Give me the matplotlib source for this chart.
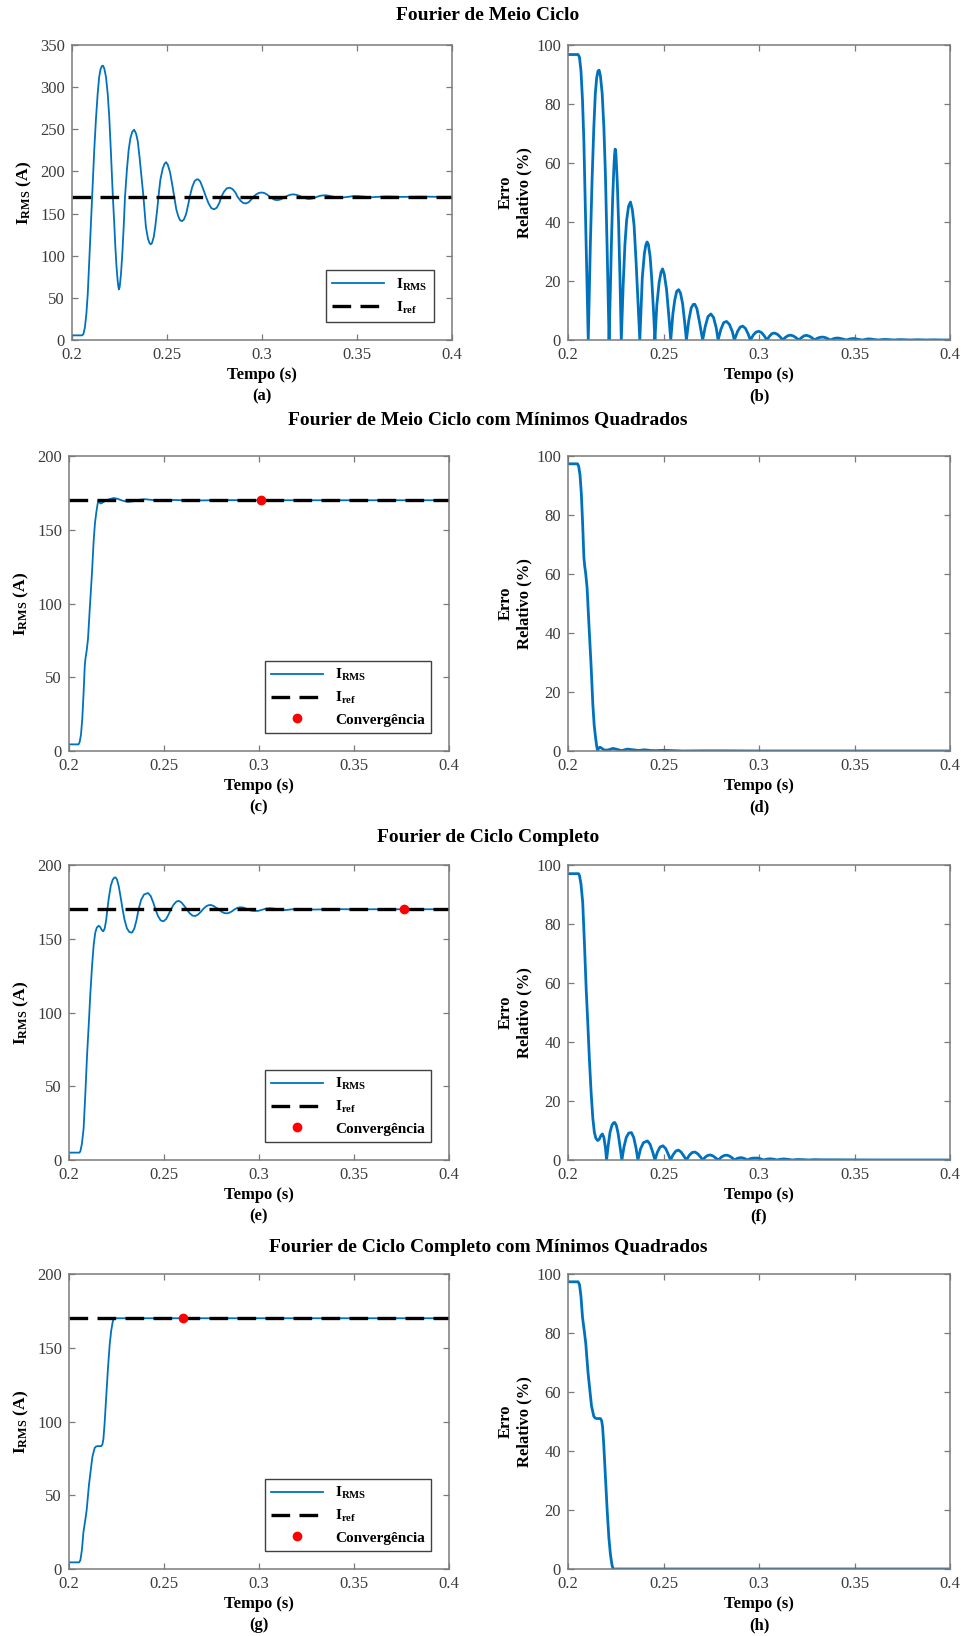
import numpy as np
import matplotlib
matplotlib.use('Agg')
import matplotlib.pyplot as plt

plt.rcParams['font.family'] = 'Liberation Serif'
plt.rcParams['mathtext.fontset'] = 'custom'
plt.rcParams['mathtext.rm'] = 'Liberation Serif'
plt.rcParams['mathtext.bf'] = 'Liberation Serif:bold'
plt.rcParams['mathtext.it'] = 'Liberation Serif:italic'

# Reference current (A)
i_ref = 170

# Half-cycle Fourier
t_a = [0.200, 0.2053, 0.2060, 0.2068, 0.2076, 0.2083, 0.2092, 0.2100, 0.2106, 0.2117,
       0.2126, 0.2135, 0.2143, 0.2150, 0.2157, 0.2163, 0.2170, 0.2179, 0.2188, 0.2196,
       0.2205, 0.2215, 0.2222, 0.2228, 0.2234, 0.2240, 0.2244, 0.2247, 0.2251, 0.2258,
       0.2265, 0.2272, 0.2279, 0.2289, 0.2298, 0.2307, 0.2317, 0.2327, 0.2337, 0.2346,
       0.2356, 0.2367, 0.2376, 0.2389, 0.2400, 0.2408, 0.2414, 0.2421, 0.2430, 0.2438,
       0.2449, 0.2455, 0.2465, 0.2477, 0.2487, 0.2495, 0.2504, 0.2516, 0.2527, 0.2538,
       0.2549, 0.2559, 0.2569, 0.2579, 0.2589, 0.2600, 0.2611, 0.2620, 0.2632, 0.2645,
       0.2656, 0.2664, 0.2675, 0.2689, 0.2705, 0.2719, 0.2733, 0.2748, 0.2762, 0.2776,
       0.2786, 0.2800, 0.2815, 0.2830, 0.2845, 0.2860, 0.2871, 0.2888, 0.2902, 0.2915,
       0.2929, 0.2943, 0.2955, 0.2971, 0.2985, 0.2999, 0.3013, 0.3027, 0.3041, 0.3055,
       0.3068, 0.3082, 0.3096, 0.3110, 0.3124, 0.3138, 0.3152, 0.3166, 0.3180, 0.3194,
       0.3208, 0.3222, 0.3236, 0.3249, 0.3263, 0.3277, 0.3291, 0.3305, 0.3319, 0.3333,
       0.3347, 0.3361, 0.3375, 0.3389, 0.3403, 0.3416, 0.3430, 0.3444, 0.3458, 0.3472,
       0.3486, 0.3500, 0.3514, 0.3528, 0.3542, 0.3556, 0.3570, 0.3583, 0.3600, 0.3625,
       0.3650, 0.3667, 0.3690, 0.3708, 0.3730, 0.3750, 0.3790, 0.3833, 0.3875, 0.3917,
       0.3958, 0.4000]
irms_a = [5.5, 5.5, 7, 15, 32, 55, 100, 140, 170, 225,
          262, 292, 312, 321, 325, 325.5, 322, 312, 292, 265,
          222, 170, 140, 111, 88, 71, 63, 60, 63, 79,
          103, 134, 170, 202, 225, 239, 247, 249.5, 245, 236,
          216, 190, 170, 134, 120, 115, 113.5, 115, 122, 134,
          156, 170, 190, 203, 209, 211, 208, 199, 185, 170,
          155, 147, 142, 141, 143, 149, 160, 170, 181, 188.5,
          190.5, 190.6, 188, 180, 170, 162, 156.5, 155, 157, 163,
          170, 176, 180, 180.7, 179, 175, 170, 165, 162.5, 162,
          163.3, 166.5, 170, 173, 174.6, 175, 174.3, 172.5, 170, 167.8,
          166.3, 166, 166.7, 168.1, 170, 171.5, 172.5, 172.8, 172.3, 171.3,
          170, 168.7, 167.6, 167.3, 167.8, 168.7, 170, 171, 171.5, 171.7,
          171.4, 170.7, 170, 169.3, 168.9, 168.9, 169.2, 169.6, 170, 170.5,
          170.8, 170.8, 170.5, 170.2, 170, 169.7, 169.4, 169.4, 169.7, 170,
          170.3, 170.3, 170.1, 170, 169.8, 169.8, 170, 170.15, 170, 169.9,
          170, 170]

# Half-cycle Fourier with least squares
t_c = [0.200, 0.2050, 0.2056, 0.2063, 0.2070, 0.2077, 0.2083, 0.2087, 0.2093, 0.2100,
       0.2110, 0.2121, 0.2130, 0.2137, 0.2144, 0.2150, 0.2155, 0.2160, 0.2167, 0.2175,
       0.2190, 0.2210, 0.2235, 0.2255, 0.2280, 0.2310, 0.2340, 0.2370, 0.2400, 0.2430,
       0.2460, 0.2500, 0.2550, 0.2600, 0.2700, 0.2800, 0.3000, 0.4000]
irms_c = [4.5, 4.5, 6, 11, 22, 40, 58, 63, 68, 76,
          98, 121, 143, 155, 162, 167, 170, 168.5, 167.8, 168.3,
          169.5, 170.6, 171.5, 171, 169.8, 168.9, 169.3, 170.3, 170.7, 170.3,
          169.8, 169.6, 170.2, 170, 169.9, 170.1, 170, 170]
conv_c = 0.3012

# Full-cycle Fourier
t_e = [0.200, 0.2055, 0.2060, 0.2068, 0.2077, 0.2086, 0.2095, 0.2104, 0.2112, 0.2121,
       0.2130, 0.2138, 0.2146, 0.2156, 0.2164, 0.2172, 0.2180, 0.2188, 0.2196, 0.2202,
       0.2210, 0.2220, 0.2230, 0.2238, 0.2245, 0.2253, 0.2262, 0.2272, 0.2282, 0.2293,
       0.2305, 0.2318, 0.2332, 0.2344, 0.2356, 0.2366, 0.2380, 0.2395, 0.2416, 0.2430,
       0.2445, 0.2455, 0.2468, 0.2482, 0.2497, 0.2512, 0.2526, 0.2537, 0.2550, 0.2565,
       0.2578, 0.2592, 0.2607, 0.2620, 0.2635, 0.2650, 0.2665, 0.2680, 0.2695, 0.2705,
       0.2720, 0.2733, 0.2746, 0.2760, 0.2775, 0.2788, 0.2803, 0.2818, 0.2831, 0.2845,
       0.2860, 0.2872, 0.2886, 0.2899, 0.2911, 0.2925, 0.2940, 0.2955, 0.2970, 0.2995,
       0.3010, 0.3025, 0.3040, 0.3060, 0.3080, 0.3095, 0.3110, 0.3130, 0.3150, 0.3175,
       0.3200, 0.3230, 0.3260, 0.3290, 0.3330, 0.3400, 0.3500, 0.3600, 0.4000]
irms_e = [5, 5, 6, 11, 21.5, 45, 71, 92, 112, 131,
          146, 154, 157.5, 158.8, 158, 156, 155, 157, 163, 170,
          178, 186, 190, 191.4, 191.6, 190, 185.5, 178, 170, 162.5,
          157, 154.5, 154.2, 157, 163, 170, 176.5, 180, 181, 179,
          174, 170, 165.5, 162.5, 161.8, 163.5, 167, 170, 173, 175.2,
          175.7, 174.6, 172.2, 170, 167.3, 165.7, 165.4, 166.5, 168.4, 170,
          171.8, 172.7, 172.9, 172.3, 171, 170, 168.3, 167.4, 167.2, 167.7,
          168.8, 170, 170.9, 171.3, 171.3, 170.8, 170, 169.2, 168.9, 168.9,
          169.4, 170, 170.5, 170.7, 170.4, 170, 169.6, 169.4, 169.6, 170,
          170.3, 170.2, 170, 169.8, 169.9, 170.1, 169.95, 170, 170]
conv_e = 0.3761

# Full-cycle Fourier with least squares
t_g = [0.200, 0.2053, 0.2060, 0.2068, 0.2076, 0.2083, 0.2086, 0.2093, 0.2105, 0.2123,
       0.2135, 0.2142, 0.2150, 0.2170, 0.2176, 0.2181, 0.2187, 0.2196, 0.2205, 0.2214,
       0.2222, 0.2230, 0.2236, 0.4000]
irms_g = [4.5, 4.5, 6, 13, 25, 31, 33.5, 40, 57, 76,
          82, 83, 83.3, 83.3, 84.5, 88, 98, 117, 136, 152,
          161.5, 167.5, 170, 170]
conv_g = 0.260

titles = ['Fourier de Meio Ciclo',
          'Fourier de Meio Ciclo com Mínimos Quadrados',
          'Fourier de Ciclo Completo',
          'Fourier de Ciclo Completo com Mínimos Quadrados']
title_y = [16, 420, 838, 1247]
row_top = [45, 456, 865, 1274]
letters = [('a', 'b'), ('c', 'd'), ('e', 'f'), ('g', 'h')]
current_ylim = [350, 200, 200, 200]

series = [(t_a, irms_a, None), (t_c, irms_c, conv_c), (t_e, irms_e, conv_e), (t_g, irms_g, conv_g)]

blue = '#0072BD'
frame_gray = '#7a7a7a'
tick_gray = '#3c3c3c'

W, H = 962, 1636
fig = plt.figure(figsize=(W / 100, H / 100), dpi=100)


def style_axes(ax):
    for s in ax.spines.values():
        s.set_color(frame_gray)
        s.set_linewidth(1.1)
    ax.tick_params(direction='in', length=4, width=0.9, color=frame_gray,
                   labelcolor=tick_gray, labelsize=12, top=True, right=True, pad=5)
    ax.set_xlim(0.2, 0.4)
    ax.set_xticks([0.2, 0.25, 0.3, 0.35, 0.4])
    ax.set_xticklabels(['0.2', '0.25', '0.3', '0.35', '0.4'])


for row in range(4):
    t, irms, conv = series[row]
    t = np.array(t)
    irms = np.array(irms)
    err = np.abs(irms - i_ref) / i_ref * 100

    top = row_top[row]
    h_px = 295
    left_x = 72 if row == 0 else 69
    ax_l = fig.add_axes([left_x / W, 1 - (top + h_px) / H, 380 / W, h_px / H])
    ax_r = fig.add_axes([568 / W, 1 - (top + h_px) / H, 382 / W, h_px / H])

    # current vs reference
    ax_l.plot(t, irms, color=blue, lw=1.3, label=r'$\mathbf{I_{RMS}}$')
    ax_l.axhline(i_ref, color='black', lw=2.4, linestyle=(0, (5.6, 2.8)),
                 label=r'$\mathbf{I_{ref}}$')
    if conv is not None:
        ax_l.plot([conv], [i_ref], 'o', color='red', ms=6, label='Convergência', zorder=5)
    style_axes(ax_l)
    ax_l.set_ylim(0, current_ylim[row])
    ax_l.set_yticks(np.arange(0, current_ylim[row] + 1, 50))
    ax_l.set_ylabel(r'$\mathbf{I_{RMS}}$ (A)', fontsize=12.5, fontweight='bold', labelpad=4)
    ax_l.set_xlabel('Tempo (s)\n(%s)' % letters[row][0], fontsize=12,
                    fontweight='bold', linespacing=1.4, labelpad=3)
    leg = ax_l.legend(loc='lower right', handlelength=3.4,
                      borderaxespad=1.2, fancybox=False, framealpha=1,
                      edgecolor='#404040', numpoints=1, labelspacing=0.45,
                      prop={'weight': 'bold', 'size': 11})
    leg.get_frame().set_linewidth(1.0)

    # relative error
    ax_r.plot(t, err, color=blue, lw=2.0)
    style_axes(ax_r)
    ax_r.set_ylim(0, 100)
    ax_r.set_yticks(np.arange(0, 101, 20))
    ax_r.set_ylabel('Erro\nRelativo (%)', fontsize=12, fontweight='bold',
                    linespacing=1.2, labelpad=3)
    ax_r.set_xlabel('Tempo (s)\n(%s)' % letters[row][1], fontsize=12,
                    fontweight='bold', linespacing=1.4, labelpad=3)

    fig.text(488 / W, 1 - title_y[row] / H, titles[row], ha='center', va='center',
             fontsize=14, fontweight='bold')

fig.savefig('out.png', dpi=100)
